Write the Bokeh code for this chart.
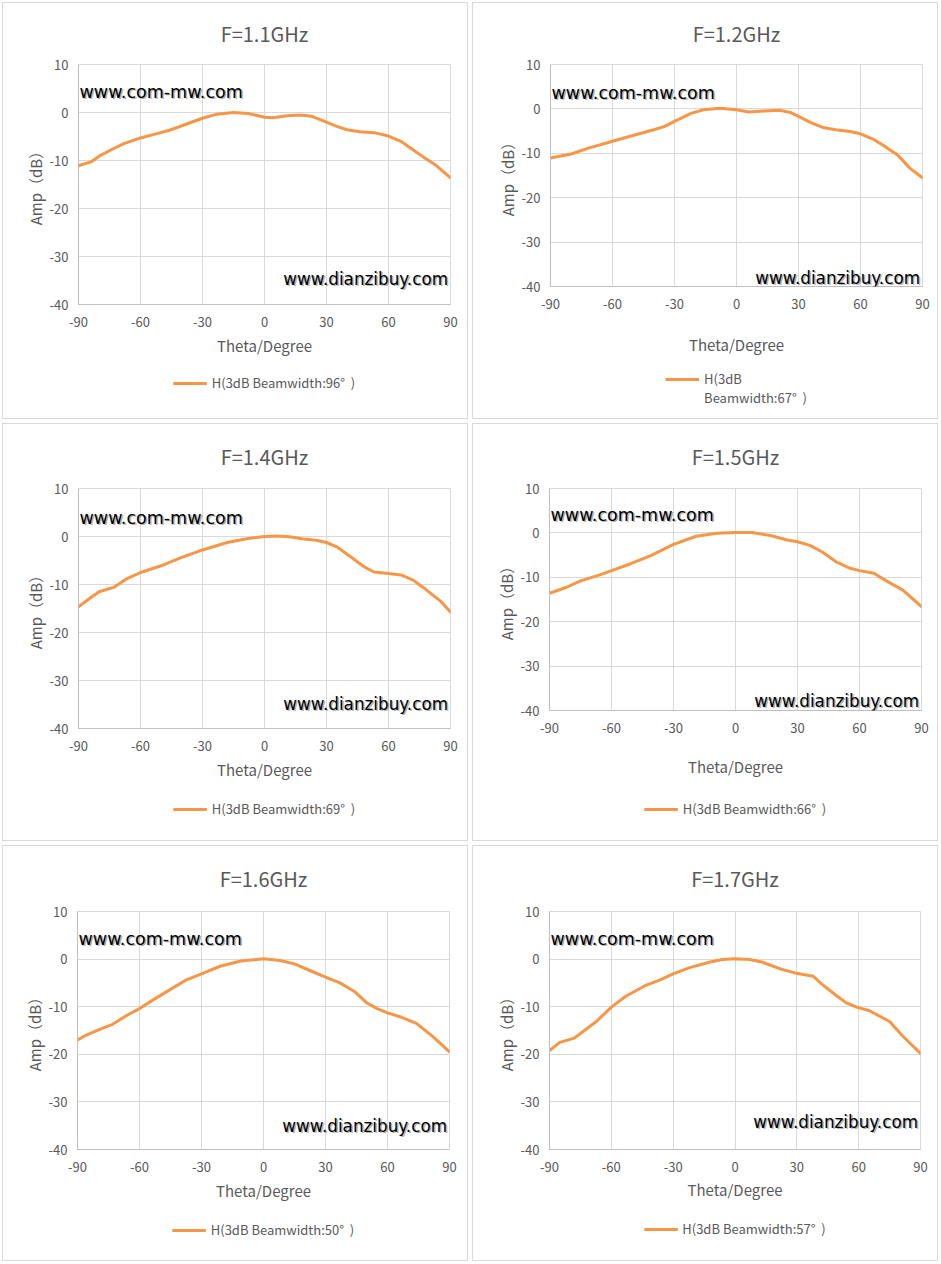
from bokeh.plotting import figure
from bokeh.models import Label, Legend, LegendItem, FixedTicker, Range1d
from bokeh.layouts import row, column
from bokeh.embed import file_html
from bokeh.resources import INLINE

# ---------------- data ----------------
x_ticks = [-90, -60, -30, 0, 30, 60, 90]
y_ticks = [10, 0, -10, -20, -30, -40]

titles = ["F=1.1GHz", "F=1.2GHz", "F=1.4GHz", "F=1.5GHz", "F=1.6GHz", "F=1.7GHz"]
# legend text lines per panel (panel 2 wraps onto two lines)
legend_lines = [
    ["H(3dB Beamwidth:96°  )"],
    ["H(3dB", "Beamwidth:67°  )"],
    ["H(3dB Beamwidth:69°  )"],
    ["H(3dB Beamwidth:66°  )"],
    ["H(3dB Beamwidth:50°  )"],
    ["H(3dB Beamwidth:57°  )"],
]

theta_11 = [-90, -84, -80, -73, -68, -60, -52, -46, -39, -30, -23, -15, -8, 0, 4, 11, 17, 23, 30, 35, 40, 46, 53, 60, 66, 72, 77, 83, 90]
amp_11 = [-11.1, -10.3, -9.1, -7.5, -6.5, -5.3, -4.4, -3.7, -2.6, -1.2, -0.35, 0.0, -0.2, -1.0, -1.1, -0.7, -0.5, -0.8, -2.0, -2.9, -3.6, -4.0, -4.2, -4.9, -6.0, -7.8, -9.3, -11.0, -13.6]

theta_12 = [-90, -80, -72, -60, -51, -40, -35, -30, -22, -16, -8, 0, 6, 13, 21, 26, 30, 36, 42, 48, 55, 60, 66, 72, 78, 84, 90]
amp_12 = [-11.05, -10.15, -8.9, -7.3, -6.1, -4.7, -4.0, -2.8, -1.0, -0.2, 0.15, -0.2, -0.7, -0.5, -0.3, -0.8, -1.7, -3.1, -4.2, -4.7, -5.1, -5.6, -6.8, -8.5, -10.4, -13.4, -15.5]

theta_14 = [-90, -84, -80, -73, -67, -60, -50, -41, -30, -18, -8, 0, 6, 12, 19, 25, 30, 35, 41, 48, 53, 60, 66, 72, 78, 85, 90]
amp_14 = [-14.65, -12.7, -11.5, -10.6, -8.9, -7.5, -6.1, -4.5, -2.8, -1.25, -0.4, 0.0, 0.1, -0.07, -0.5, -0.8, -1.25, -2.15, -4.0, -6.25, -7.4, -7.7, -8.0, -9.1, -11.0, -13.4, -15.7]

theta_15 = [-90, -82, -75, -66, -60, -51, -41, -30, -19, -9, 0, 8, 17, 25, 30, 36, 42, 49, 55, 60, 67, 73, 81, 90]
amp_15 = [-13.6, -12.3, -10.8, -9.5, -8.5, -7.0, -5.1, -2.6, -0.75, -0.07, 0.07, 0.07, -0.6, -1.6, -2.0, -2.8, -4.3, -6.6, -7.9, -8.5, -9.1, -10.8, -12.9, -16.6]

theta_16 = [-90, -86, -79, -73, -66, -60, -52, -44, -37, -30, -21, -11, 0, 8, 15, 23, 30, 37, 44, 50, 55, 60, 66, 74, 82, 90]
amp_16 = [-17.0, -16.0, -14.7, -13.7, -11.8, -10.4, -8.2, -6.1, -4.3, -3.1, -1.5, -0.4, 0.07, -0.3, -1.0, -2.5, -3.8, -5.0, -6.8, -9.2, -10.4, -11.3, -12.1, -13.5, -16.3, -19.5]

theta_17 = [-90, -85, -78, -74, -67, -60, -53, -43, -36, -30, -22, -12, -6, 0, 7, 13, 23, 29, 38, 42, 49, 54, 59, 65, 75, 81, 90]
amp_17 = [-19.2, -17.5, -16.6, -15.3, -13.0, -10.1, -7.8, -5.45, -4.3, -3.1, -1.8, -0.6, -0.1, 0.07, -0.07, -0.6, -2.2, -2.9, -3.6, -5.2, -7.6, -9.2, -10.1, -10.8, -13.1, -16.0, -19.8]

thetas = [theta_11, theta_12, theta_14, theta_15, theta_16, theta_17]
amps = [amp_11, amp_12, amp_14, amp_15, amp_16, amp_17]

# ---------------- layout / style ----------------
FONT = "Noto Sans CJK SC"
WM_FONT = "DejaVu Sans"
TXT = "#595959"
GRID = "#D9D9D9"
AXIS = "#BFBFBF"
LINE = "#F79646"

# per panel: inner width, main-figure height and borders, title standoff,
# x-axis-label standoff, legend strip height and top margin,
# watermark offsets (com-mw: dx, dy below top ; dianzibuy: dx, dy above bottom)
geoms = [
    dict(w=464, h=364, l=75, r=17, t=61, b=63, ts=29, als=5, lh=51, lm=6, wm1=(1, 27), wm2=(-1, 26)),
    dict(w=464, h=364, l=77, r=15, t=61, b=81, ts=29, als=22, lh=51, lm=2, wm1=(1, 28), wm2=(-1, 9)),
    dict(w=464, h=364, l=75, r=17, t=64, b=60, ts=32, als=5, lh=52, lm=11, wm1=(1, 29), wm2=(-1, 25)),
    dict(w=464, h=364, l=76, r=16, t=64, b=78, ts=32, als=20, lh=52, lm=11, wm1=(1, 26), wm2=(-1, 10)),
    dict(w=464, h=364, l=74, r=18, t=65, b=61, ts=33, als=5, lh=50, lm=10, wm1=(1, 27), wm2=(-1, 24)),
    dict(w=464, h=364, l=76, r=17, t=65, b=61, ts=33, als=4, lh=50, lm=9, wm1=(1, 27), wm2=(-1, 28)),
]


def make_panel(i):
    g = geoms[i]
    p = figure(width=g["w"], height=g["h"], output_backend="svg", toolbar_location=None,
               x_range=Range1d(-90, 90), y_range=Range1d(-40, 10),
               min_border_left=g["l"], min_border_right=g["r"],
               min_border_top=g["t"], min_border_bottom=g["b"],
               background_fill_color="white", border_fill_color="white")

    p.title.text = titles[i]
    p.title.align = "center"
    p.title.vertical_align = "top"
    p.title.text_font = FONT
    p.title.text_font_size = "20px"
    p.title.text_font_style = "normal"
    p.title.text_color = TXT
    p.title.standoff = g["ts"]

    p.outline_line_color = GRID
    p.grid.grid_line_color = GRID
    p.grid.grid_line_width = 1

    p.xaxis.ticker = FixedTicker(ticks=x_ticks)
    p.yaxis.ticker = FixedTicker(ticks=y_ticks)
    p.xaxis.major_label_overrides = {t: str(t) for t in x_ticks}
    p.yaxis.major_label_overrides = {t: str(t) for t in y_ticks}
    for ax in (p.xaxis, p.yaxis):
        ax.major_tick_line_color = None
        ax.minor_tick_line_color = None
        ax.major_tick_out = 0
        ax.major_tick_in = 0
        ax.axis_line_color = AXIS
        ax.major_label_text_font = FONT
        ax.major_label_text_font_size = "13px"
        ax.major_label_text_color = TXT
        ax.axis_label_text_font = FONT
        ax.axis_label_text_font_size = "15px"
        ax.axis_label_text_font_style = "normal"
        ax.axis_label_text_color = TXT
    p.xaxis.axis_label = "Theta/Degree"
    p.xaxis.major_label_standoff = 12
    p.xaxis.axis_label_standoff = g["als"]
    p.yaxis.axis_label = "Amp（dB）"
    p.yaxis.major_label_standoff = 10
    p.yaxis.axis_label_standoff = 1

    p.line(thetas[i], amps[i], line_color=LINE, line_width=3,
           line_join="round", line_cap="round")

    # watermarks (with a soft shadow)
    dx1, dy1 = g["wm1"]
    dx2, dy2 = g["wm2"]
    for col, sh in (("#808080", 1.5), ("black", 0)):
        p.add_layout(Label(x=-90, y=10, x_offset=dx1 + sh, y_offset=-dy1 - sh,
                           text="www.com-mw.com", text_font=WM_FONT,
                           text_font_size="17.5px", text_color=col,
                           text_alpha=0.6 if sh else 1.0,
                           text_align="left", text_baseline="middle"))
        p.add_layout(Label(x=90, y=-40, x_offset=dx2 - 1.5 + sh, y_offset=dy2 - sh,
                           text="www.dianzibuy.com", text_font=WM_FONT,
                           text_font_size="16.8px", text_color=col,
                           text_alpha=0.6 if sh else 1.0,
                           text_align="right", text_baseline="middle"))

    # legend strip below the chart (its own small canvas, same horizontal frame);
    # its view range is set away from the data so only the legend shows
    lf = figure(width=g["w"], height=g["lh"], output_backend="svg", toolbar_location=None,
                x_axis_location=None, y_axis_location=None,
                x_range=Range1d(200, 201), y_range=Range1d(200, 201),
                min_border_left=g["l"], min_border_right=g["r"],
                min_border_top=0, min_border_bottom=0,
                outline_line_color=None, background_fill_color="white",
                border_fill_color="white")
    lf.grid.visible = False
    swatch = lf.line(thetas[i], amps[i], line_color=LINE, line_width=3)
    lines = legend_lines[i]
    items = [LegendItem(label=lines[0], renderers=[swatch])]
    if len(lines) > 1:
        ghost = lf.line(thetas[i], amps[i], line_alpha=0)
        for extra in lines[1:]:
            items.append(LegendItem(label=extra, renderers=[ghost]))
    leg = Legend(items=items, location="top_center",
                 orientation="horizontal" if len(lines) == 1 else "vertical",
                 border_line_color=None, background_fill_alpha=0,
                 glyph_width=34, glyph_height=16, label_height=16,
                 label_standoff=5, padding=0, spacing=0, margin=g["lm"],
                 label_text_font=FONT, label_text_font_size="13px",
                 label_text_color=TXT)
    lf.add_layout(leg)

    panel = column(p, lf)
    panel.styles = {"border": "1px solid #D9D9D9", "margin": "2px",
                    "background-color": "white"}
    return panel


panels = [make_panel(i) for i in range(6)]
layout = column(row(panels[0], panels[1]), row(panels[2], panels[3]),
                row(panels[4], panels[5]))

open("out.html", "w").write(file_html(layout, INLINE))
